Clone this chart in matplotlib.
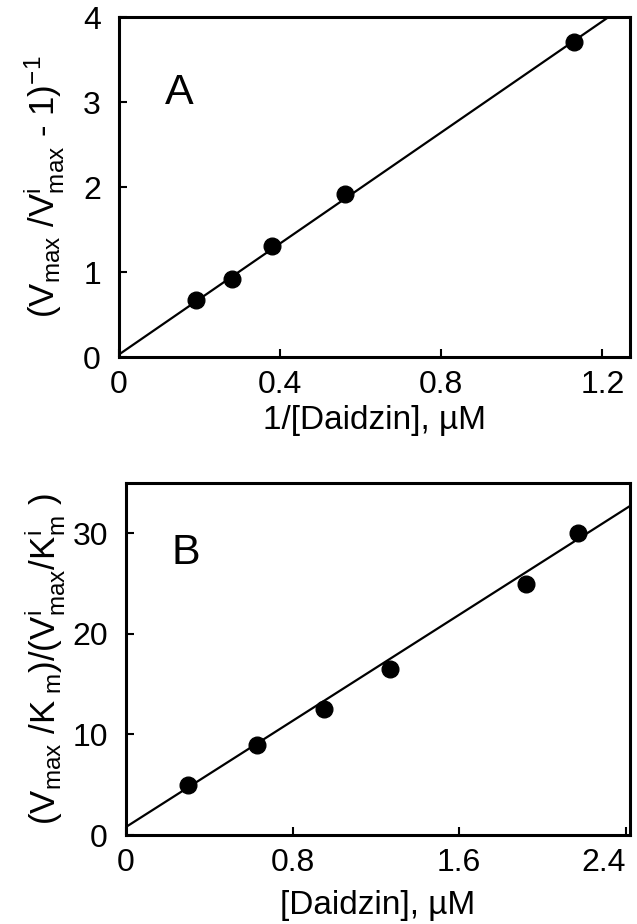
import numpy as np
import matplotlib.pyplot as plt

plt.rcParams['font.family'] = ['Liberation Sans', 'DejaVu Sans']
plt.rcParams['mathtext.fontset'] = 'custom'
plt.rcParams['mathtext.rm'] = 'Liberation Sans'
plt.rcParams['mathtext.it'] = 'Liberation Sans'

# panel A : 1/[Daidzin] vs (Vmax/Vimax - 1)^-1
a_x = [0.19, 0.28, 0.38, 0.56, 1.13]
a_y = [0.67, 0.92, 1.31, 1.92, 3.71]
a_line_x = [0.0, 1.30]
a_line_y = [0.03, 4.28]

# panel B : [Daidzin] vs (Vmax/Km)/(Vimax/Kim)
b_x = [0.30, 0.63, 0.95, 1.27, 1.92, 2.17]
b_y = [5.0, 8.9, 12.5, 16.5, 25.0, 30.0]
b_line_x = [0.0, 2.45]
b_line_y = [0.8, 33.1]

fig = plt.figure(figsize=(6.37, 9.24), dpi=100)
axA = fig.add_axes([0.1868, 0.6136, 0.802, 0.3677])
axB = fig.add_axes([0.1978, 0.0963, 0.791, 0.381])

def style(ax):
    for s in ax.spines.values():
        s.set_linewidth(2.2)
    ax.tick_params(direction='in', length=6, width=1.5, labelsize=23,
                   top=False, right=False)
    ax.tick_params(axis='x', pad=9)
    ax.tick_params(axis='y', pad=13)

axA.plot(a_line_x, a_line_y, color='black', lw=1.6)
axA.plot(a_x, a_y, 'o', color='black', ms=12)
axA.set_xlim(0, 1.268)
axA.set_ylim(0, 4)
axA.set_xticks([0, 0.4, 0.8, 1.2])
axA.set_xticklabels(['0', '0.4', '0.8', '1.2'])
axA.set_yticks([0, 1, 2, 3, 4])
axA.set_xlabel('1/[Daidzin], µM', fontsize=24, labelpad=4)
axA.set_ylabel(r'(V$_{\mathrm{max}}$ /V$^{\mathrm{i}}_{\mathrm{max}}$ - 1)$^{\mathrm{-1}}$',
               fontsize=25, labelpad=12)
axA.text(0.09, 0.745, 'A', transform=axA.transAxes, fontsize=31)
style(axA)

axB.plot(b_line_x, b_line_y, color='black', lw=1.6)
axB.plot(b_x, b_y, 'o', color='black', ms=12)
axB.set_xlim(0, 2.42)
axB.set_ylim(0, 35)
axB.set_xticks([0, 0.8, 1.6, 2.4])
axB.set_xticklabels(['0', '0.8', '1.6', '2.4'])
axB.xaxis.get_majorticklabels()[-1].set_ha('right')
axB.set_yticks([0, 10, 20, 30])
axB.set_xlabel('[Daidzin], µM', fontsize=24, labelpad=9)
axB.set_ylabel(r'(V$_{\mathrm{max}}$ /K$_{\mathrm{\ m}}$)/(V$^{\mathrm{i}}_{\mathrm{max}}$/K$^{\mathrm{i}}_{\mathrm{m}}$ )',
               fontsize=25, labelpad=4)
axB.text(0.09, 0.77, 'B', transform=axB.transAxes, fontsize=31)
style(axB)

fig.savefig('out.png', dpi=100)
